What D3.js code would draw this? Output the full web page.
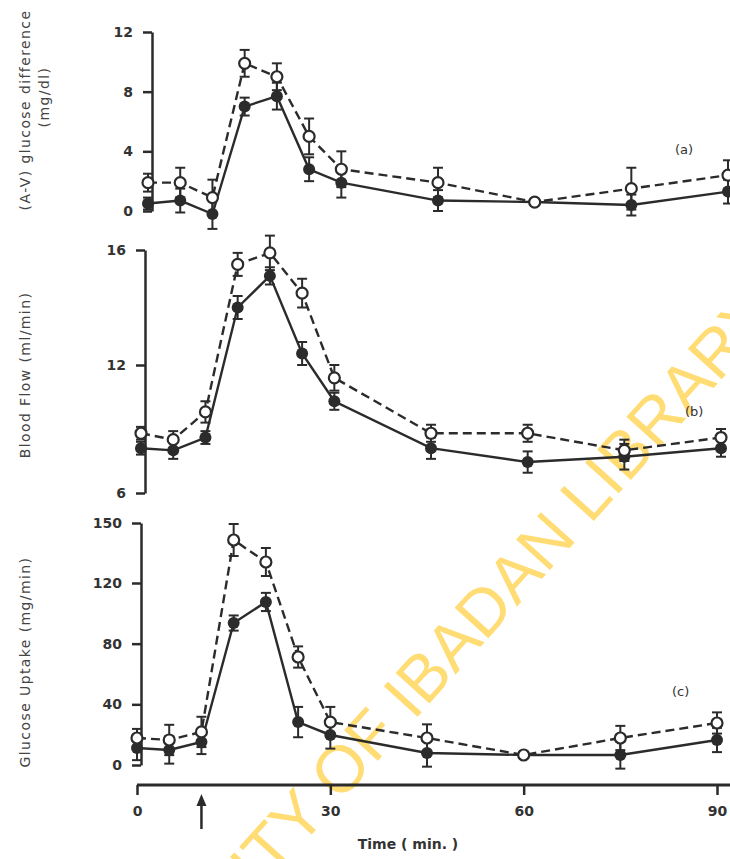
<!DOCTYPE html>
<html>
<head>
<meta charset="utf-8">
<script src="https://cdn.jsdelivr.net/npm/d3@7"></script>
<style>
  body { margin: 0; background: #fff; }
  svg { display: block; }
  .tick text { font-family: "DejaVu Sans", sans-serif; font-weight: bold; font-size: 14px; fill: #333; }
</style>
</head>
<body>
<svg id="chart" width="730" height="859"></svg>
<script>
// sampling times (min)
const times = [0, 5, 10, 15, 20, 25, 30, 45, 60, 75, 90];

// (a) (A-V) glucose difference, mg/dl
const avOpen   = [1.9, 1.9, 0.9, 9.9, 9.0, 5.0, 2.8, 1.9, 0.6, 1.5, 2.4];
const avOpenSe = [0.6, 1.0, 1.2, 0.9, 0.9, 1.2, 1.2, 1.0, 0.0, 1.4, 1.0];
const avSolid   = [0.5, 0.7, -0.2, 7.0, 7.7, 2.8, 1.9, 0.7, 0.6, 0.4, 1.3];
const avSolidSe = [0.4, 0.8, 1.0, 0.6, 0.9, 0.8, 1.0, 0.7, 0.2, 0.7, 0.8];

// (b) blood flow, ml/min
const bfOpen   = [8.8, 8.5, 9.8, 15.5, 15.9, 14.5, 11.4, 8.8, 8.8, 8.0, 8.6];
const bfOpenSe = [0.3, 0.4, 0.5, 0.4, 0.6, 0.5, 0.6, 0.4, 0.4, 0.5, 0.4];
const bfSolid   = [8.1, 8.0, 8.6, 14.0, 15.1, 12.4, 10.3, 8.1, 7.45, 7.7, 8.1];
const bfSolidSe = [0.3, 0.4, 0.3, 0.4, 0.3, 0.4, 0.4, 0.5, 0.5, 0.6, 0.4];

// (c) glucose uptake, mg/min
const guOpen   = [17.8, 16.5, 21.8, 141.5, 130.5, 71.2, 28.3, 17.8, 6.6, 17.8, 27.7];
const guOpenSe = [6, 10, 10, 8, 7, 7, 10, 9, 0, 8, 7];
const guSolid   = [11.2, 9.9, 15.2, 93.6, 107.5, 28.3, 19.8, 7.9, 6.6, 6.6, 16.5];
const guSolidSe = [8, 9, 8, 5, 6, 10, 9, 9, 2, 9, 8];

// tick labels as printed
const avTicks = [0, 4, 8, 12];
const bfTicks = [6, 12, 16];
const guTicks = [0, 40, 80, 120, 150];
const timeTicks = [0, 30, 60, 90];

const ink = "#2b2b2b";
const svg = d3.select("#chart");

const x = d3.scaleLinear().domain([0, 90]).range([137, 717]);

// watermark from the scanned page
svg.append("text")
    .attr("transform", "translate(421,713) rotate(-48)")
    .attr("text-anchor", "middle")
    .style("font-family", "Liberation Sans, Arial, sans-serif")
    .style("font-size", "66px")
    .style("fill", "#ffd966")
    .style("opacity", 0.9)
    .text("UNIVERSITY OF IBADAN LIBRARY");

const panels = [
    {dx: 11, y: d3.scaleLinear().domain([0, 12]).range([211, 32]), ticks: avTicks,
     open: avOpen, openSe: avOpenSe, solid: avSolid, solidSe: avSolidSe,
     title: ["(A-V) glucose difference", "(mg/dl)"], tcy: [110, 97], tag: "(a)", tagX: 675, tagY: 154},
    {dx: 4, y: d3.scaleLinear().domain([6, 12, 16]).range([493, 365, 250]), ticks: bfTicks,
     open: bfOpen, openSe: bfOpenSe, solid: bfSolid, solidSe: bfSolidSe,
     title: ["Blood Flow (ml/min)"], tcy: [375], tag: "(b)", tagX: 685, tagY: 416},
    {dx: 0, y: d3.scaleLinear().domain([0, 120, 150]).range([765, 583, 523]), ticks: guTicks,
     open: guOpen, openSe: guOpenSe, solid: guSolid, solidSe: guSolidSe,
     title: ["Glucose Uptake (mg/min)"], tcy: [662], tag: "(c)", tagX: 672, tagY: 696}
];

panels.forEach(p => {
    const g = svg.append("g").attr("transform", `translate(${p.dx},0)`);
    const y = p.y;

    // y axis
    const ax = g.append("g")
        .attr("transform", `translate(${x(0) + 4},0)`)
        .call(d3.axisLeft(y).tickValues(p.ticks).tickFormat(d3.format("d")).tickSize(9).tickSizeOuter(0));
    ax.select(".domain").attr("stroke", ink).attr("stroke-width", 2.5);
    ax.selectAll(".tick line").attr("stroke", ink).attr("stroke-width", 2.5);
    ax.selectAll(".tick text").attr("x", -19);

    // axis title
    p.title.forEach((t, i) => {
        svg.append("text")
            .attr("transform", `translate(${30 + i * 19},${p.tcy[i]}) rotate(-90)`)
            .attr("text-anchor", "middle")
            .style("font-family", "DejaVu Sans, sans-serif")
            .style("font-size", "14px")
            .style("letter-spacing", "1.4px")
            .style("fill", "#444")
            .text(t);
    });

    const line = d3.line().x((d, i) => x(times[i])).y(d => y(d));

    g.append("path").datum(p.solid)
        .attr("d", line).attr("fill", "none")
        .attr("stroke", ink).attr("stroke-width", 2.4);
    g.append("path").datum(p.open)
        .attr("d", line).attr("fill", "none")
        .attr("stroke", ink).attr("stroke-width", 2.4)
        .attr("stroke-dasharray", "9,5");

    // error bars
    const bars = (vals, se) => {
        vals.forEach((v, i) => {
            if (!se[i]) return;
            const cx = x(times[i]);
            const y0 = y(v - se[i]), y1 = y(v + se[i]);
            g.append("line").attr("x1", cx).attr("x2", cx).attr("y1", y0).attr("y2", y1)
                .attr("stroke", ink).attr("stroke-width", 2);
            [y0, y1].forEach(yy => g.append("line")
                .attr("x1", cx - 5).attr("x2", cx + 5).attr("y1", yy).attr("y2", yy)
                .attr("stroke", ink).attr("stroke-width", 2));
        });
    };
    bars(p.open, p.openSe);
    bars(p.solid, p.solidSe);

    g.selectAll(null).data(p.solid).join("circle")
        .attr("cx", (d, i) => x(times[i])).attr("cy", d => y(d)).attr("r", 6)
        .attr("fill", ink);
    g.selectAll(null).data(p.open).join("circle")
        .attr("cx", (d, i) => x(times[i])).attr("cy", d => y(d)).attr("r", 5.5)
        .attr("fill", "#fff").attr("stroke", ink).attr("stroke-width", 2.2);

    svg.append("text")
        .attr("x", p.tagX).attr("y", p.tagY)
        .style("font-family", "DejaVu Sans, sans-serif")
        .style("font-size", "13px")
        .style("fill", "#333")
        .text(p.tag);
});

// time axis
const xa = svg.append("g")
    .attr("transform", "translate(0,785)")
    .call(d3.axisBottom(x).tickValues(timeTicks).tickFormat(d3.format("d")).tickSize(10).tickSizeOuter(0));
xa.select(".domain").remove();
xa.append("line").attr("x1", x(0)).attr("x2", 730).attr("y1", 0).attr("y2", 0)
    .attr("stroke", ink).attr("stroke-width", 3);
xa.selectAll(".tick line").attr("stroke", ink).attr("stroke-width", 2.5);
xa.selectAll(".tick text").attr("y", 21);

// injection arrow at 10 min
svg.append("line").attr("x1", x(10)).attr("x2", x(10)).attr("y1", 829).attr("y2", 800)
    .attr("stroke", ink).attr("stroke-width", 2.5);
svg.append("path")
    .attr("d", `M${x(10)},794 L${x(10) - 5},806 L${x(10) + 5},806 Z`)
    .attr("fill", ink);

svg.append("text")
    .attr("x", 408).attr("y", 849)
    .attr("text-anchor", "middle")
    .style("font-family", "DejaVu Sans, sans-serif")
    .style("font-size", "14px")
    .style("font-weight", "bold")
    .style("fill", "#333")
    .text("Time ( min. )");
</script>
</body>
</html>
